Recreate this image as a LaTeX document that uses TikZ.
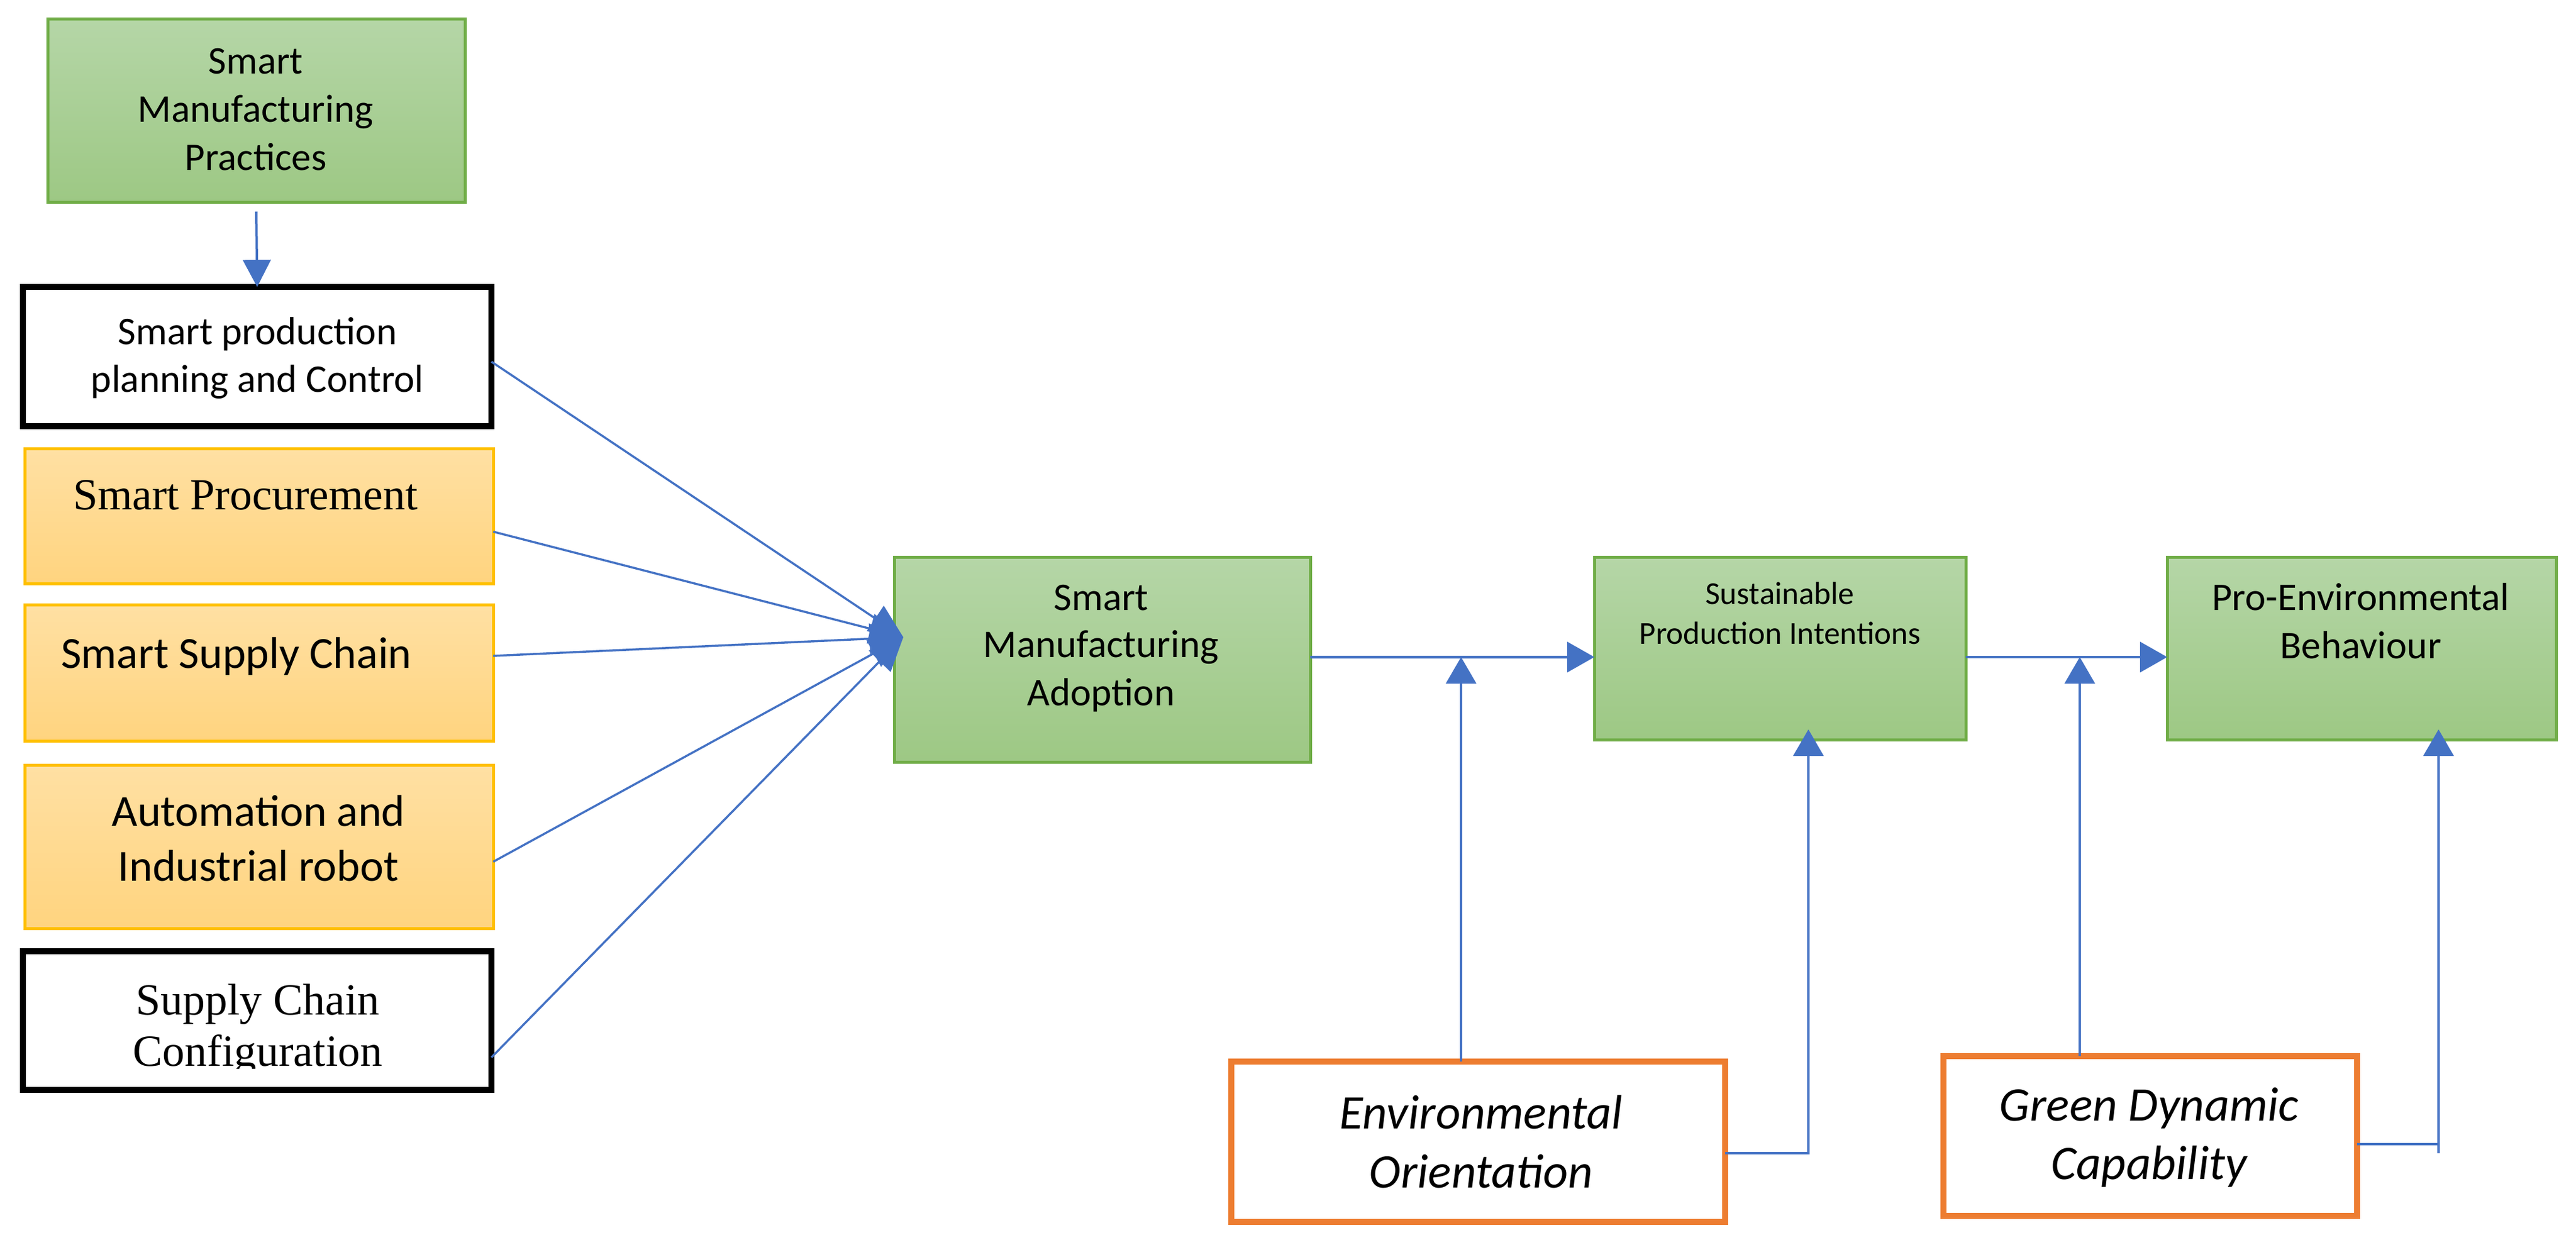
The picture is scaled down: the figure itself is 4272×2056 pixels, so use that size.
\documentclass[tikz,border=0pt]{standalone}
\usepackage{fontspec}
\setmainfont{Carlito}
\newfontfamily\tnr{Liberation Serif}
\usetikzlibrary{arrows.meta,calc}
\definecolor{gtop}{HTML}{B5D6A7}
\definecolor{gbot}{HTML}{9DC884}
\definecolor{gline}{HTML}{70AD47}
\definecolor{otop}{HTML}{FFE0A3}
\definecolor{obot}{HTML}{FFD47F}
\definecolor{oline}{HTML}{FFC000}
\definecolor{rline}{HTML}{ED7D31}
\definecolor{blu}{HTML}{4472C4}
\begin{document}
\begin{tikzpicture}[x=0.1mm,y=-0.1mm,
  box/.style={rectangle,inner sep=0pt,outer sep=0pt},
  gbox/.style={box,draw=gline,line width=0.5mm,top color=gtop,bottom color=gbot},
  obox/.style={box,draw=oline,line width=0.5mm,top color=otop,bottom color=obot},
  kbox/.style={box,draw=black,line width=1mm,fill=white},
  rbox/.style={box,draw=rline,line width=1mm,fill=white},
  txt/.style={inner sep=0pt,anchor=base,text=black},
  fa/.style={txt,font=\fontsize{18.5}{22}\selectfont},
  fb/.style={txt,font=\fontsize{21}{25}\selectfont},
  fbt/.style={txt,font=\tnr\fontsize{21}{25}\selectfont},
  fc/.style={txt,font=\fontsize{15.1}{18}\selectfont},
  fd/.style={txt,font=\itshape\fontsize{22.8}{27}\selectfont},
  diag/.style={draw=blu,line width=0.35mm,-{Triangle[length=5.6mm,width=5mm]}},
  main/.style={draw=blu,line width=0.45mm,-{Triangle[length=4.5mm,width=5mm]}},
  vert/.style={draw=blu,line width=0.4mm,-{Triangle[length=4.4mm,width=5mm]}},
  plain/.style={draw=blu,line width=0.4mm}]
\useasboundingbox (0,0) rectangle (4272,2056);

% left column
\node[gbox,minimum width=69.2mm,minimum height=30.4mm] (smp) at (425,183) {};
\node[kbox,minimum width=77.7mm,minimum height=23.1mm] (sppc) at (426.5,591.5) {};
\node[obox,minimum width=77.7mm,minimum height=22.4mm] (sp) at (429.5,856) {};
\node[obox,minimum width=77.7mm,minimum height=22.6mm] (ssc) at (429.5,1116) {};
\node[obox,minimum width=77.7mm,minimum height=27.1mm] (aut) at (429.5,1404.5) {};
\node[kbox,minimum width=77.7mm,minimum height=23mm] (scc) at (426.5,1693) {};

% middle/right
\node[gbox,minimum width=69mm,minimum height=34mm] (sma) at (1828,1094) {};
\node[gbox,minimum width=61.6mm,minimum height=30.3mm] (spi) at (2952,1075.5) {};
\node[gbox,minimum width=64.5mm,minimum height=30.3mm] (peb) at (3916.5,1075.5) {};
\node[rbox,minimum width=81.9mm,minimum height=26.6mm] (eo) at (2451.5,1894) {};
\node[rbox,minimum width=68.6mm,minimum height=26.5mm] (gdc) at (3566,1884.5) {};

% texts
\node[fa] (smpA) at (424,122) {Smart};
\node[fa] (smpB) at (424,202) {Manufacturing};
\node[fa] (smpC) at (424,282) {Practices};
\node[fa] (sppcA) at (427,571) {Smart production};
\node[fa] (sppcB) at (427,650) {planning and Control};
\node[fbt] (spA) at (407,845) {Smart Procurement};
\node[fb] (sscA) at (392,1108) {Smart Supply Chain};
\node[fb] (autA) at (428.5,1370) {Automation and};
\node[fb] (autB) at (428.5,1461) {Industrial robot};
\begin{scope}
\clip (38,1578) rectangle (815,1772);
\node[fbt] (sccA) at (427.5,1683) {Supply Chain};
\node[fbt] (sccB) at (427.5,1768) {Configuration};
\end{scope}
\node[fa] (smaA) at (1826,1012) {Smart};
\node[fa] (smaB) at (1826,1090) {Manufacturing};
\node[fa] (smaC) at (1826,1170) {Adoption};
\node[fc] (spiA) at (2952,1002) {Sustainable};
\node[fc] (spiB) at (2952,1068) {Production Intentions};
\node[fa] (pebA) at (3915,1012) {Pro-Environmental};
\node[fa] (pebB) at (3915,1092) {Behaviour};
\node[fd] (eoA) at (2456,1872) {Environmental};
\node[fd] (eoB) at (2456,1970) {Orientation};
\node[fd] (gdcA) at (3564,1859) {Green Dynamic};
\node[fd] (gdcB) at (3564,1956) {Capability};

% connectors
\draw[draw=blu,line width=0.4mm,-{Triangle[length=4.5mm,width=4.6mm]}] ([yshift=-1.6mm]smp.south) -- (sppc.north);

\coordinate (conv) at ([xshift=1.5mm,yshift=3.7mm]sma.west);
\draw[diag] ([yshift=-0.85mm]sppc.east) -- (conv);
\draw[diag] ([yshift=-2.6mm]sp.east) -- (conv);
\draw[diag] ([yshift=2.8mm]ssc.east) -- (conv);
\draw[diag] ([yshift=-2.5mm]aut.east) -- (conv);
\draw[diag] ([yshift=-6.1mm]scc.east) -- (conv);

\coordinate (j1) at (2423,1090);
\coordinate (j2) at (3449,1090);
\draw[main] ([yshift=0.4mm]sma.east) -- (spi.west |- j1);
\draw[main] (spi.east |- j2) -- (peb.west |- j2);

\draw[vert] (eo.north -| j1) -- (j1);
\draw[vert] (gdc.north -| j2) -- (j2);

\draw[vert] ([yshift=-1.9mm]eo.east) -| ([xshift=4.7mm,yshift=1.7mm]spi.south);

\coordinate (gturn) at (4044,1913);
\draw[plain] ([yshift=-1.35mm]gdc.east) -- ([yshift=-1.35mm]gdc.east -| gturn);
\draw[vert] (gturn) -- ([xshift=12.75mm,yshift=1.7mm]peb.south);
\end{tikzpicture}
\end{document}
